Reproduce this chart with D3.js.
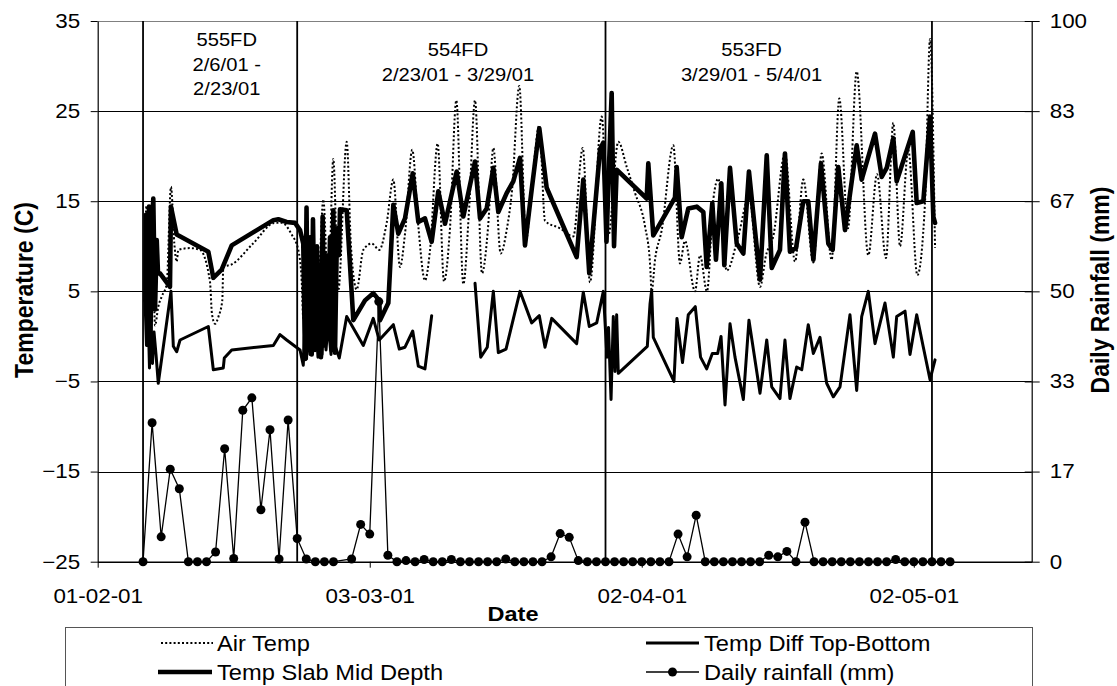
<!DOCTYPE html>
<html>
<head>
<meta charset="utf-8">
<script src="https://cdn.jsdelivr.net/npm/d3@7"></script>
<style>
  body { margin: 0; background: #fff; }
  text { font-family: "Liberation Sans", Arial, sans-serif; fill: #000; }
</style>
</head>
<body>
<svg id="chart" width="1117" height="686"></svg>
<script>
// ---- data (day = days after 1 Feb 2001) ----
const airTemp = [[5.22,10],[5.38,14.5],[5.55,6],[5.71,12],[5.88,3],[6.10,8],[6.32,1.2],[6.68,3.3],[7.09,4.5],[7.61,5.8],
  [8.08,16.6],[8.45,10.3],[8.71,8.3],[8.89,9.6],[10.18,9.8],[11.28,9.6],[12.38,6.1],[12.60,2.5],[12.94,1.4],[13.32,2.2],
  [13.74,4],[13.85,7.7],[14.78,8.0],[17.13,10.3],[19.55,12.6],[20.29,12.6],[21.39,11.3],[22.12,9.6],[22.50,6.1],
  [22.67,2],[22.97,9],[23.30,1.5],[23.63,7],[23.96,0.8],[24.40,6],[24.88,15.2],[25.43,4.5],[25.98,19.7],[26.53,5.1],
  [27.46,21.6],[27.93,10],[28.56,5.2],[29.29,9.6],[30.22,10.3],[31.05,9.6],[31.87,12.6],[32.60,17.4],[33.34,7.7],
  [33.89,11.4],[34.69,20.7],[35.36,12.2],[36.09,6.2],[36.65,9.6],[37.49,21.4],[38.19,6.1],[38.85,12],[39.55,26.2],
  [40.32,5.8],[40.95,14],[41.61,26.2],[42.38,7.0],[43.04,12],[43.63,20.9],[44.44,9.2],[45.10,11.8],[45.69,16.2],
  [46.49,27.8],[47.23,10.7],[47.86,16.5],[48.70,23.4],[49.33,12.8],[50.98,12],[52.45,11.1],[53.49,20.9],[54.29,6.0],
  [55.58,24.4],[56.31,11.2],[57.41,21.6],[58.34,18.8],[59.26,15.9],[60.36,12.2],[60.91,8.1],[61.09,5.0],[61.46,8.5],
  [62.20,11.8],[63.48,21.2],[64.21,8.1],[64.76,10.6],[65.87,5.0],[66.42,9],[67.19,5.0],[67.89,15.2],[68.44,17.5],
  [69.36,7.3],[70.64,11.1],[71.82,15.5],[73.04,5.5],[73.70,9],[74.50,11.1],[75.79,20.3],[76.90,8.3],[77.81,17.4],
  [78.92,8.2],[79.84,20.3],[80.94,8.5],[81.78,26.4],[82.74,12],[83.70,29.4],[84.98,9.0],[85.94,18],[86.93,8.7],
  [87.74,23.7],[88.48,10.0],[89.39,20.7],[90.39,6.8],[91.24,15],[91.79,33.0],[92.34,9.8]];

const slabTemp = [[5.27,4],[5.33,13.5],[5.49,2],[5.66,14.4],[5.82,0],[5.99,12],[6.13,15.3],[6.32,3],[6.51,10.7],
  [6.65,7],[6.87,7.0],[7.97,5.5],[8.08,14.4],[8.71,11.3],[12.20,9.4],[12.75,6.5],[13.67,7.4],[14.78,10.1],[19.37,12.9],
  [19.92,13.0],[20.84,12.7],[21.76,12.6],[22.31,11.8],[22.67,10.3],[22.86,-2.5],[23.03,14.3],[23.19,-1.5],[23.41,11],
  [23.60,-2],[23.74,13],[23.96,-1.5],[24.18,10],[24.40,3],[24.62,-2.3],[24.81,13.3],[25.01,-1],[25.18,9],[25.40,0],
  [25.62,11],[25.78,-1.5],[25.98,14],[26.17,-1.8],[26.39,12],[26.61,9],[26.72,14.1],[27.46,14.0],[28.19,1.8],
  [29.48,4.0],[30.39,4.8],[31.05,4.0],[31.13,1.8],[32.05,3.7],[32.60,14.6],[33.15,11.4],[33.89,13.1],[34.74,18.1],
  [35.36,12.7],[36.09,13.1],[36.83,10.5],[37.56,16.1],[38.30,12.5],[39.59,18.3],[40.32,13.3],[41.61,19.4],[42.16,13.1],
  [42.90,14.2],[43.63,18.7],[44.18,13.8],[45.10,15.9],[45.83,17.2],[46.57,19.8],[47.12,10.1],[47.86,16.3],[48.70,23.1],
  [49.51,16.5],[52.82,8.8],[53.55,17.4],[54.21,7.0],[55.40,20.8],[55.76,21.5],[56.11,10.5],[56.39,19],[56.68,27.0],
  [56.94,10.0],[57.23,18.5],[60.54,15.3],[60.72,19.2],[61.27,11.2],[63.66,15.4],[63.85,18.8],[64.40,11.0],[65.13,14.2],
  [66.06,14.4],[66.79,13.8],[67.16,7.7],[67.78,14.8],[68.18,8.5],[68.77,17.0],[69.10,7.9],[69.73,18.7],[70.47,10.3],
  [71.20,9.2],[71.82,18.3],[73.04,6.3],[73.78,20.1],[74.33,7.6],[75.24,9.6],[75.79,20.3],[76.34,9.4],[77.01,9.8],
  [77.81,15.0],[78.36,15.0],[78.92,8.5],[79.76,19.2],[80.57,10.3],[81.05,9.6],[81.67,18.8],[82.41,11.8],[83.70,21.2],
  [84.25,17.4],[85.72,22.5],[86.46,17.7],[87.01,18.7],[87.74,22.0],[88.11,17.2],[89.88,22.7],[90.32,14.8],[91.05,15.0],
  [91.79,24.4],[92.15,13.3],[92.34,12.6]];

const diffTemp = [[5.22,4],[5.38,-1],[5.55,3],[5.71,-3.5],[5.82,1.5],[6.04,-3],[6.21,0.5],[6.43,-2],[6.68,-5.2],
  [8.08,5.0],[8.34,-1.1],[8.71,-1.7],[9.08,-0.4],[12.20,1.1],[12.75,-3.7],[13.85,-3.5],[13.96,-2.4],[14.78,-1.5],
  [19.37,-1.0],[20.10,0.2],[20.84,-0.4],[22.31,-1.5],[22.67,-3.2],[22.86,1.5],[23.03,-2.5],[23.19,2],[23.41,-2],
  [23.63,3],[23.85,-1.5],[24.07,2],[24.29,-2.3],[24.51,1],[24.74,-2],[24.96,2.5],[25.18,-1.5],[25.40,1.5],[25.73,-2],
  [25.95,1],[26.17,-1],[26.64,-2.4],[27.46,2.2],[29.29,-1.0],[30.39,2.0],[31.05,-0.4],[32.60,1.3],[33.26,-1.4],
  [33.89,-1.2],[34.74,0.6],[35.36,-3.3],[36.09,-3.6],[36.83,2.3],[39.0,null],
  [41.61,5.9],[42.24,-2.3],[42.96,-1.2],[43.63,5.0],[44.18,-1.8],[45.03,-1.4],[46.57,5.0],[47.86,1.5],[48.70,2.3],
  [49.33,-1.2],[50.07,2.0],[52.82,-0.8],[53.55,4.9],[54.21,1.1],[55.03,1.5],[55.76,5.0],[56.16,-2.3],[56.33,1],
  [56.61,-7.0],[56.86,2.2],[57.05,-3.9],[57.23,2.4],[57.41,-4.1],[60.61,-1.1],[60.91,3.6],[61.09,5.1],[61.27,-0.1],
  [63.55,-5.0],[63.88,2.0],[64.49,-2.9],[65.13,2.4],[65.90,3.3],[66.48,-2.3],[67.16,-3.6],[67.78,-1.9],[68.37,-1.9],
  [68.74,0],[69.18,-7.6],[69.73,1.4],[70.28,-2.3],[71.20,-7.0],[71.82,1.8],[73.04,-6.3],[73.78,-0.4],[74.33,-5.6],
  [75.24,-6.9],[75.79,-0.4],[76.34,-6.9],[77.08,-3.4],[77.64,-3.7],[78.36,1.3],[78.92,-1.9],[79.65,-0.1],[80.39,-5.2],
  [81.12,-6.7],[81.86,-5.6],[82.96,2.4],[83.70,-6.0],[84.25,2.2],[84.98,5.0],[85.72,-0.8],[86.82,3.7],[87.74,-2.3],
  [88.11,2.2],[89.03,2.8],[89.58,-2.0],[90.32,2.4],[91.05,-1.2],[91.79,-4.8],[92.34,-2.6]];

// daily rainfall (mm), one value per day from 6 Feb 2001 (null = no reading)
const rainStart = "2001-02-06";
const rainfall = [0,25.7,4.6,17.1,13.5,0,0,0,1.8,20.9,0.6,28.0,30.3,9.6,24.4,0.5,26.2,4.3,0.5,0,0,0,null,0.5,6.9,5.1,
  48.1,1.2,0,0.2,0,0.4,0,0,0.4,0,0,0,0,0,0.5,0,0,0,0,0.9,5.2,4.5,0.2,0,0,0,0,0,0,0,0,0,0,5.1,0.9,8.6,0,0,0,0,0,0,0,
  1.2,0.9,1.9,0,7.3,0,0,0,0,0,0,0,0,0,0.4,0,0,0,0,0,0];

const xTicks = ["2001-02-01","2001-03-03","2001-04-02","2001-05-02"];
const tempTicks = [-25,-15,-5,5,15,25,35];
const rainTicks = [0,16.67,33.33,50,66.67,83.33,100];
const rainTickLabels = ["0","17","33","50","67","83","100"];
const phaseDates = ["2001-02-06","2001-02-23","2001-03-29","2001-05-04"];
const phaseNames = ["555FD","554FD","553FD"];
const phaseRanges = [["2/6/01 -","2/23/01"],["2/23/01 - 3/29/01"],["3/29/01 - 5/4/01"]];
const phaseLabelDays = [14.23, 39.73, 72.1];
const seriesNames = ["Air Temp","Temp Slab Mid Depth","Temp Diff Top-Bottom","Daily rainfall (mm)"];

// ---- setup ----
const svg = d3.select("#chart");
const plot = {left: 97.7, right: 1031.7, top: 21, bottom: 561.7};
const base = Date.UTC(2001, 1, 1);
const toDate = d => new Date(base + d * 864e5);
const parse = d3.utcParse("%Y-%m-%d");
const fmt = d3.utcFormat("%d-%m-%y");
const SX = 1.12; // the source picture is a little wider than tall

let x = d3.scaleUtc().domain([new Date(base), toDate(103)]).range([plot.left, plot.right]);
let yT = d3.scaleLinear().domain([-25, 35]).range([plot.bottom, plot.top]);
let yR = d3.scaleLinear().domain([0, 100]).range([plot.bottom, plot.top]);

const crisp = v => Math.round(v) + 0.5;

// gridlines
svg.append("g").selectAll("line").data(tempTicks).join("line")
  .attr("x1", plot.left).attr("x2", plot.right)
  .attr("y1", d => crisp(yT(d))).attr("y2", d => crisp(yT(d)))
  .attr("stroke", d => d == 35 ? "#808080" : "#000").attr("stroke-width", 1);

// test period separators
svg.append("g").selectAll("line").data(phaseDates).join("line")
  .attr("x1", d => x(parse(d))).attr("x2", d => x(parse(d)))
  .attr("y1", plot.top).attr("y2", plot.bottom)
  .attr("stroke", "#000").attr("stroke-width", 1.8);

// series
let tLine = d3.line().defined(d => d[1] != null).x(d => x(toDate(d[0]))).y(d => yT(d[1]));

svg.append("path").datum(airTemp)
  .attr("d", tLine.curve(d3.curveMonotoneX))
  .attr("fill", "none").attr("stroke", "#000").attr("stroke-width", 2)
  .attr("stroke-dasharray", "2,2.2");

tLine.curve(d3.curveLinear);
svg.append("path").datum(slabTemp)
  .attr("d", tLine)
  .attr("fill", "none").attr("stroke", "#000").attr("stroke-width", 4.6)
  .attr("stroke-linejoin", "round").attr("stroke-linecap", "round");

svg.append("path").datum(diffTemp)
  .attr("d", tLine)
  .attr("fill", "none").attr("stroke", "#000").attr("stroke-width", 3)
  .attr("stroke-linejoin", "round").attr("stroke-linecap", "round");

const rainStartDate = parse(rainStart);
const rainPts = rainfall.map((v, i) => ({date: d3.utcDay.offset(rainStartDate, i), v: v}))
  .filter(d => d.v != null);

svg.append("path").datum(rainPts)
  .attr("d", d3.line().x(d => x(d.date)).y(d => yR(d.v)))
  .attr("fill", "none").attr("stroke", "#000").attr("stroke-width", 1.3);

svg.append("g").selectAll("circle").data(rainPts).join("circle")
  .attr("cx", d => x(d.date)).attr("cy", d => yR(d.v)).attr("r", 4.5)
  .attr("fill", "#000");

// axes
function styleAxis(g) {
  g.attr("font-size", null).attr("font-family", null);
  g.select(".domain").attr("stroke", "#000").attr("stroke-width", 1.2);
  g.selectAll(".tick line").attr("stroke", "#000");
  g.selectAll("text").attr("font-size", "20px");
}

let gx = svg.append("g").attr("transform", `translate(0,${plot.bottom})`)
  .call(d3.axisBottom(x).tickValues(xTicks.map(parse)).tickFormat(fmt).tickSize(6).tickSizeOuter(0))
  .call(styleAxis);
gx.selectAll("text").attr("y", 27).attr("transform", `scale(${SX},1)`);

let gl = svg.append("g").attr("transform", `translate(${plot.left},0)`)
  .call(d3.axisLeft(yT).tickValues(tempTicks).tickSize(7).tickSizeOuter(0))
  .call(styleAxis);
gl.selectAll("text").attr("x", -17.5 / SX).attr("transform", `scale(${SX},1)`);

let gr = svg.append("g").attr("transform", `translate(${plot.right},0)`)
  .call(d3.axisRight(yR).tickValues(rainTicks).tickFormat((d, i) => rainTickLabels[i]).tickSize(8).tickSizeOuter(0))
  .call(styleAxis);
gr.selectAll(".tick line").attr("x1", -7);
gr.selectAll("text").attr("x", 18 / SX).attr("transform", `scale(${SX},1)`);

// axis titles
svg.append("text").text("Temperature (C)")
  .attr("transform", `translate(24,290) scale(${SX},1) rotate(-90)`)
  .attr("text-anchor", "middle").attr("dy", "0.35em")
  .attr("font-size", "23px").attr("font-weight", "bold");

svg.append("text").text("Daily Rainfall (mm)")
  .attr("transform", `translate(1100,290) scale(${SX},1) rotate(-90)`)
  .attr("text-anchor", "middle").attr("dy", "0.35em")
  .attr("font-size", "23px").attr("font-weight", "bold");

svg.append("text").text("Date")
  .attr("transform", `translate(513,621) scale(${SX},1)`)
  .attr("text-anchor", "middle")
  .attr("font-size", "21px").attr("font-weight", "bold");

// period labels
phaseNames.forEach((name, i) => {
  const lines = [name].concat(phaseRanges[i]);
  const cx = x(toDate(phaseLabelDays[i]));
  const top = lines.length == 3 ? 46 : 56;
  lines.forEach((t, j) => {
    svg.append("text").text(t)
      .attr("transform", `translate(${cx},${top + j * 24.5}) scale(1.09,1)`)
      .attr("text-anchor", "middle").attr("font-size", "18.5px");
  });
});

// legend
const legend = svg.append("g");
legend.append("rect").attr("x", 65.5).attr("y", 627.5).attr("width", 967).attr("height", 80)
  .attr("fill", "#fff").attr("stroke", "#555").attr("stroke-width", 1);

const legendPos = [[161, 643], [158, 672], [646, 643], [646, 672]];
const sampleEnd = [213, 212, 699, 699];
seriesNames.forEach((name, i) => {
  const [lx, ly] = legendPos[i];
  const ln = legend.append("line").attr("x1", lx).attr("x2", sampleEnd[i]).attr("y1", ly).attr("y2", ly)
    .attr("stroke", "#000");
  if (i == 0) ln.attr("stroke-width", 2).attr("stroke-dasharray", "2,2.2");
  if (i == 1) ln.attr("stroke-width", 4.6);
  if (i == 2) ln.attr("stroke-width", 3);
  if (i == 3) {
    ln.attr("stroke-width", 1.3);
    legend.append("circle").attr("cx", (lx + sampleEnd[i]) / 2).attr("cy", ly).attr("r", 4.5).attr("fill", "#000");
  }
  legend.append("text").text(name)
    .attr("transform", `translate(${i < 2 ? 217 : 704},${ly}) scale(1.1,1)`)
    .attr("dy", "0.35em").attr("font-size", "21.5px");
});
</script>
</body>
</html>
